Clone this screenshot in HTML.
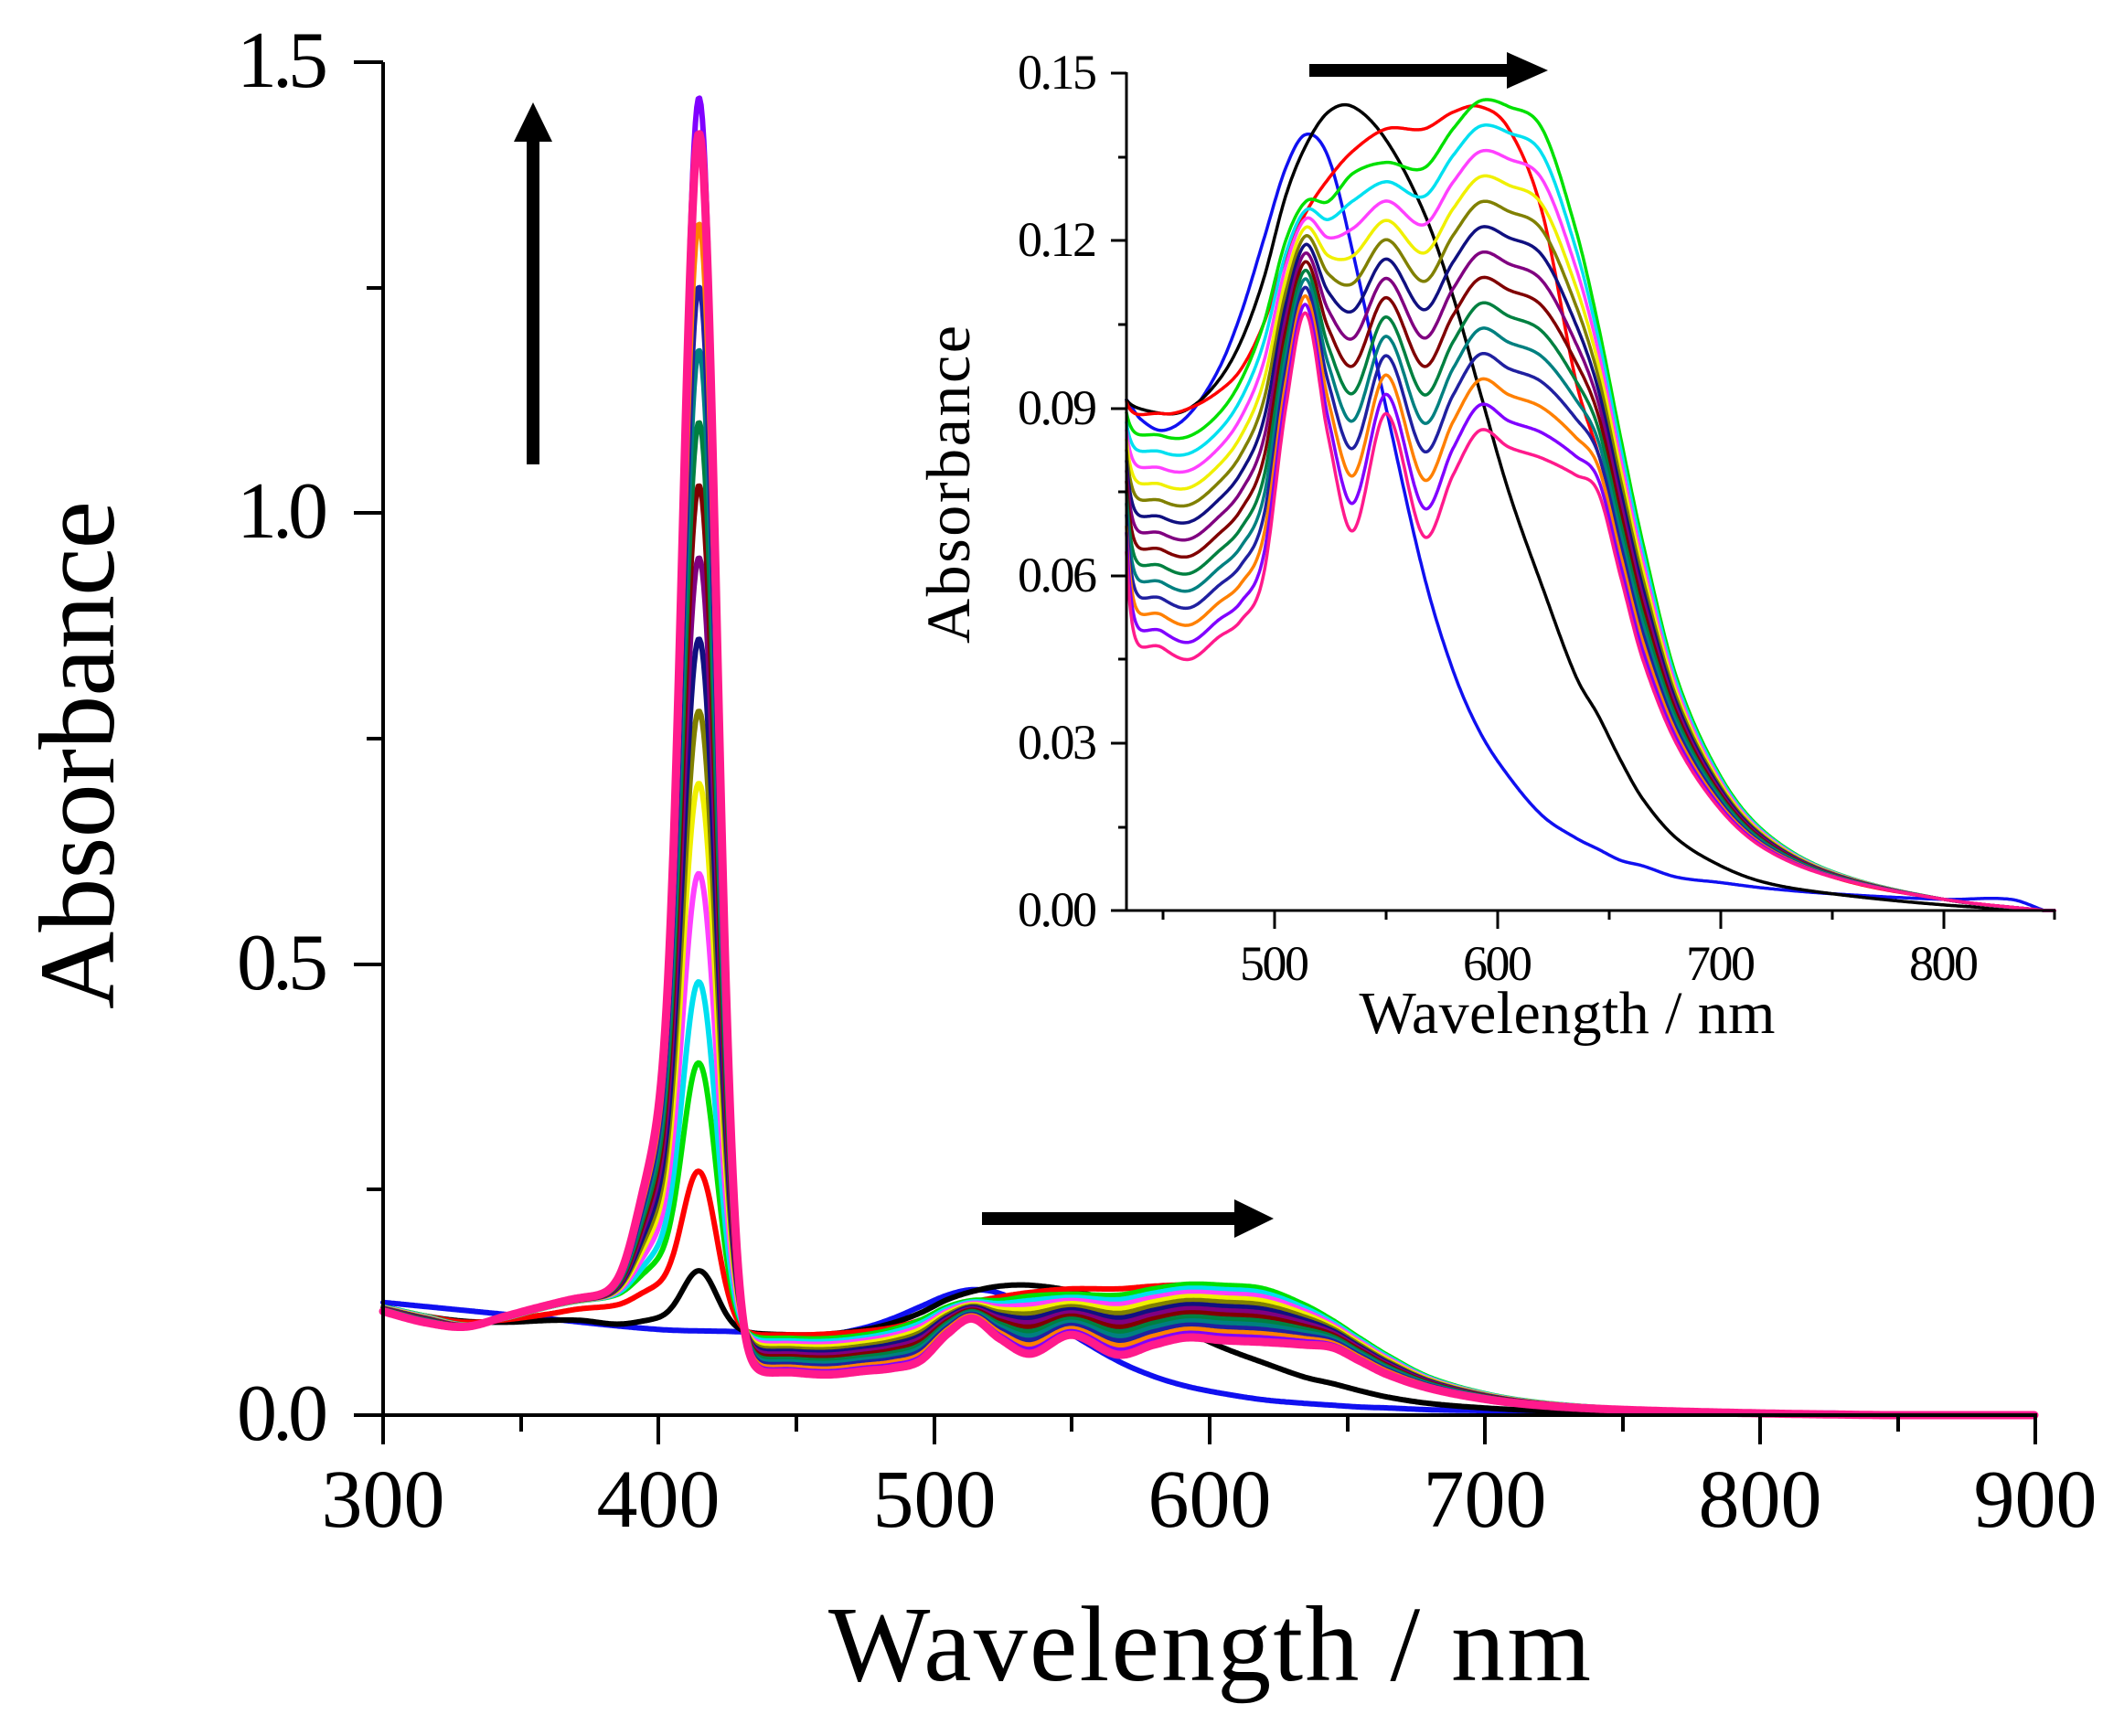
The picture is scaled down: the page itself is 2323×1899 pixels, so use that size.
<!DOCTYPE html>
<html><head><meta charset="utf-8"><style>
html,body{margin:0;padding:0;background:#fff}
svg{display:block}
text{font-family:"Liberation Serif","Times New Roman",serif;fill:#000}
</style></head><body>
<svg id="s" width="2323" height="1899" viewBox="0 0 2323 1899" xmlns="http://www.w3.org/2000/svg">
<rect width="2323" height="1899" fill="#fff"/>
<g id="main"></g>
<g id="inset"></g>
<g stroke="#000" stroke-width="4" fill="none">
<line x1="419" y1="68" x2="419" y2="1550"/>
<line x1="417" y1="1548" x2="2228" y2="1548"/>
<line x1="387" y1="68" x2="419" y2="68"/>
<line x1="387" y1="561" x2="419" y2="561"/>
<line x1="387" y1="1055" x2="419" y2="1055"/>
<line x1="387" y1="1548" x2="419" y2="1548"/>
<line x1="401" y1="315" x2="419" y2="315"/>
<line x1="401" y1="808" x2="419" y2="808"/>
<line x1="401" y1="1301" x2="419" y2="1301"/>
<line x1="419" y1="1548" x2="419" y2="1580"/>
<line x1="720" y1="1548" x2="720" y2="1580"/>
<line x1="1022" y1="1548" x2="1022" y2="1580"/>
<line x1="1323" y1="1548" x2="1323" y2="1580"/>
<line x1="1624" y1="1548" x2="1624" y2="1580"/>
<line x1="1925" y1="1548" x2="1925" y2="1580"/>
<line x1="2226" y1="1548" x2="2226" y2="1580"/>
<line x1="570" y1="1548" x2="570" y2="1566"/>
<line x1="871" y1="1548" x2="871" y2="1566"/>
<line x1="1172" y1="1548" x2="1172" y2="1566"/>
<line x1="1474" y1="1548" x2="1474" y2="1566"/>
<line x1="1775" y1="1548" x2="1775" y2="1566"/>
<line x1="2076" y1="1548" x2="2076" y2="1566"/>
</g>
<g font-size="88" text-anchor="end">
<text x="359" y="95" textLength="100">1.5</text>
<text x="359" y="588" textLength="100">1.0</text>
<text x="359" y="1082" textLength="100">0.5</text>
<text x="359" y="1575" textLength="100">0.0</text>
</g>
<g font-size="90" text-anchor="middle">
<text x="419" y="1670">300</text>
<text x="720" y="1670">400</text>
<text x="1022" y="1670">500</text>
<text x="1323" y="1670">600</text>
<text x="1624" y="1670">700</text>
<text x="1925" y="1670">800</text>
<text x="2226" y="1670">900</text>
</g>
<text x="1323" y="1838" font-size="118" text-anchor="middle" textLength="834">Wavelength / nm</text>
<text transform="translate(124,826) rotate(-90)" font-size="118" text-anchor="middle" textLength="556">Absorbance</text>
<rect x="576" y="150" width="14" height="358" fill="#000"/>
<polygon points="562,155 604,155 583,112" fill="#000"/>
<rect x="1074" y="1326" width="280" height="14" fill="#000"/>
<polygon points="1350,1312 1350,1354 1393,1333" fill="#000"/>
<g stroke="#000" stroke-width="3" fill="none">
<line x1="1232" y1="79" x2="1232" y2="997"/>
<line x1="1230" y1="996" x2="2248" y2="996"/>
<line x1="1215" y1="80" x2="1232" y2="80"/>
<line x1="1215" y1="263" x2="1232" y2="263"/>
<line x1="1215" y1="447" x2="1232" y2="447"/>
<line x1="1215" y1="630" x2="1232" y2="630"/>
<line x1="1215" y1="813" x2="1232" y2="813"/>
<line x1="1215" y1="996" x2="1232" y2="996"/>
<line x1="1223" y1="172" x2="1232" y2="172"/>
<line x1="1223" y1="355" x2="1232" y2="355"/>
<line x1="1223" y1="538" x2="1232" y2="538"/>
<line x1="1223" y1="721" x2="1232" y2="721"/>
<line x1="1223" y1="905" x2="1232" y2="905"/>
<line x1="1394" y1="996" x2="1394" y2="1016"/>
<line x1="1638" y1="996" x2="1638" y2="1016"/>
<line x1="1882" y1="996" x2="1882" y2="1016"/>
<line x1="2126" y1="996" x2="2126" y2="1016"/>
<line x1="1272" y1="996" x2="1272" y2="1006"/>
<line x1="1516" y1="996" x2="1516" y2="1006"/>
<line x1="1760" y1="996" x2="1760" y2="1006"/>
<line x1="2004" y1="996" x2="2004" y2="1006"/>
<line x1="2247" y1="996" x2="2247" y2="1006"/>
</g>
<g font-size="54" text-anchor="end">
<text x="1200" y="97" textLength="87">0.15</text>
<text x="1200" y="280" textLength="87">0.12</text>
<text x="1200" y="464" textLength="87">0.09</text>
<text x="1200" y="647" textLength="87">0.06</text>
<text x="1200" y="830" textLength="87">0.03</text>
<text x="1200" y="1013" textLength="87">0.00</text>
</g>
<g font-size="54" text-anchor="middle">
<text x="1394" y="1072" textLength="76">500</text>
<text x="1638" y="1072" textLength="76">600</text>
<text x="1882" y="1072" textLength="76">700</text>
<text x="2126" y="1072" textLength="76">800</text>
</g>
<text x="1714" y="1130" font-size="66" text-anchor="middle" textLength="455">Wavelength / nm</text>
<text transform="translate(1060,530) rotate(-90)" font-size="68" text-anchor="middle" textLength="348">Absorbance</text>
<rect x="1432" y="70" width="220" height="14" fill="#000"/>
<polygon points="1648,57 1648,97 1693,77" fill="#000"/>
</svg>
<script>
(function(){
var NS="http://www.w3.org/2000/svg";
function cr(pts,x){
  var n=pts.length;
  if(x<=pts[0][0])return pts[0][1];
  if(x>=pts[n-1][0])return pts[n-1][1];
  var i=0;while(i<n-2&&x>pts[i+1][0])i++;
  var x0=pts[i][0],x1=pts[i+1][0],y0=pts[i][1],y1=pts[i+1][1];
  var h=x1-x0,t=(x-x0)/h;
  var m0=i>0?(y1-pts[i-1][1])/(x1-pts[i-1][0]):(y1-y0)/h;
  var m1=i<n-2?(pts[i+2][1]-y0)/(pts[i+2][0]-x0):(y1-y0)/h;
  var t2=t*t,t3=t2*t;
  return (2*t3-3*t2+1)*y0+(t3-2*t2+t)*h*m0+(-2*t3+3*t2)*y1+(t3-t2)*h*m1;
}
var grid=[300,315,330,345,360,372,385,400,425,450,462,475,485,495,505,514,524,535,550,567,580,592,605,620,635,645,655,665,680,700,720,750,800,845];
var uvG=[0.12,0.11,0.1,0.108,0.12,0.127,0.13,0.13];
var G=[0.085,0.085,0.089,0.095,0.105,0.12,0.127,0.127,0.132,0.134,0.133,0.14,0.145,0.144,0.14,0.122,0.105,0.085,0.066,0.042,0.024,0.014,0.007,0.002,0.0];
var L=[0.047,0.045,0.049,0.052,0.06,0.09,0.107,0.085,0.068,0.089,0.067,0.078,0.086,0.083,0.081,0.078,0.075,0.06,0.045,0.03,0.018,0.011,0.006,0.002,0.0];
var uvL=[0.115,0.103,0.098,0.11,0.122,0.13,0.132,0.13];
function mk(uv,vis,junc){var a=uv.concat([junc]).concat(vis);return grid.map(function(x,i){return [x,a[i]];});}
var specs=[];
specs.push({c:"#1010f0",h:0,p:[[300,0.125],[350,0.11],[400,0.095],[432,0.092],[440,0.088],[450,0.086],[462,0.089],[475,0.097],[485,0.107],[495,0.12],[505,0.133],[514,0.139],[524,0.135],[535,0.118],[550,0.09],[567,0.06],[580,0.043],[592,0.032],[605,0.024],[620,0.017],[635,0.013],[645,0.011],[655,0.009],[665,0.008],[680,0.006],[700,0.005],[720,0.004],[750,0.003],[800,0.002],[830,0.002],[845,0.0]]});
specs.push({c:"#000000",h:0.16,p:mk([0.12,0.11,0.104,0.103,0.105,0.105,0.1,0.098],[0.089,0.09,0.095,0.102,0.113,0.128,0.137,0.143,0.144,0.138,0.125,0.11,0.093,0.075,0.058,0.042,0.035,0.027,0.02,0.013,0.008,0.005,0.003,0.001,0.0],0.092)});
specs.push({c:"#ff0000",h:0.27,p:mk([0.12,0.11,0.103,0.106,0.112,0.118,0.12,0.12],[0.089,0.09,0.093,0.097,0.105,0.117,0.125,0.131,0.136,0.14,0.14,0.143,0.144,0.14,0.125,0.095,0.082,0.068,0.055,0.035,0.02,0.012,0.006,0.002,0.0],0.092)});
var cols=["#00e000","#00e0f0","#ff40ff","#f0f000","#808000","#101080","#800080","#800000","#008040","#008080","#2020a0","#ff8000","#8000ff","#ff1a8c"];
var hs=[0.39,0.48,0.6,0.7,0.78,0.86,0.95,1.03,1.1,1.18,1.25,1.32,1.46,1.42];
for(var j=0;j<14;j++){
  var t=j/13;
  var vis=G.map(function(g,i){return g*(1-t)+L[i]*t;});
  var uv=uvG.map(function(g,i){return g*(1-t)+uvL[i]*t;});
  var junc=0.09*(1-t)+0.055*t;
  specs.push({c:cols[j],h:hs[j],p:mk(uv,vis,junc)});
}
specs.forEach(function(s){ if(s.h>0){ s.a=(s.h-cr(s.p,415))/1.0073; } else s.a=0; });
function F(s,x){
  var v=cr(s.p,x);
  if(s.a>0){v+=s.a*Math.exp(-Math.pow(x-415,2)/(2*6.3*6.3))+0.1*s.a*Math.exp(-Math.pow(x-399,2)/(2*7*7));}
  return v;
}
var gm=document.getElementById("main"),gi=document.getElementById("inset");
function path(g,d,c,w){var p=document.createElementNS(NS,"path");p.setAttribute("d",d);p.setAttribute("fill","none");p.setAttribute("stroke",c);p.setAttribute("stroke-width",w);p.setAttribute("stroke-linejoin","round");p.setAttribute("stroke-linecap","round");g.appendChild(p);}
specs.forEach(function(s,k){
  var d="";
  for(var x=300;x<=900;x+=0.5){
    var v=x<=845?F(s,x):0.0;
    var px=419+(x-300)*3.01,py=1548-v*986.7;
    d+=(x==300?"M":"L")+px.toFixed(1)+","+py.toFixed(1);
  }
  path(gm,d,s.c,k==specs.length-1?9:6);
  var d2="";
  for(var x=433.6;x<=850;x+=0.5){
    var v=x<=845?F(s,x):0.0;
    var px=1394+(x-500)*2.44,py=996-v*6107;
    d2+=(x==433.6?"M":"L")+px.toFixed(1)+","+py.toFixed(1);
  }
  path(gi,d2,s.c,3.5);
});
})();
</script>
</body></html>
